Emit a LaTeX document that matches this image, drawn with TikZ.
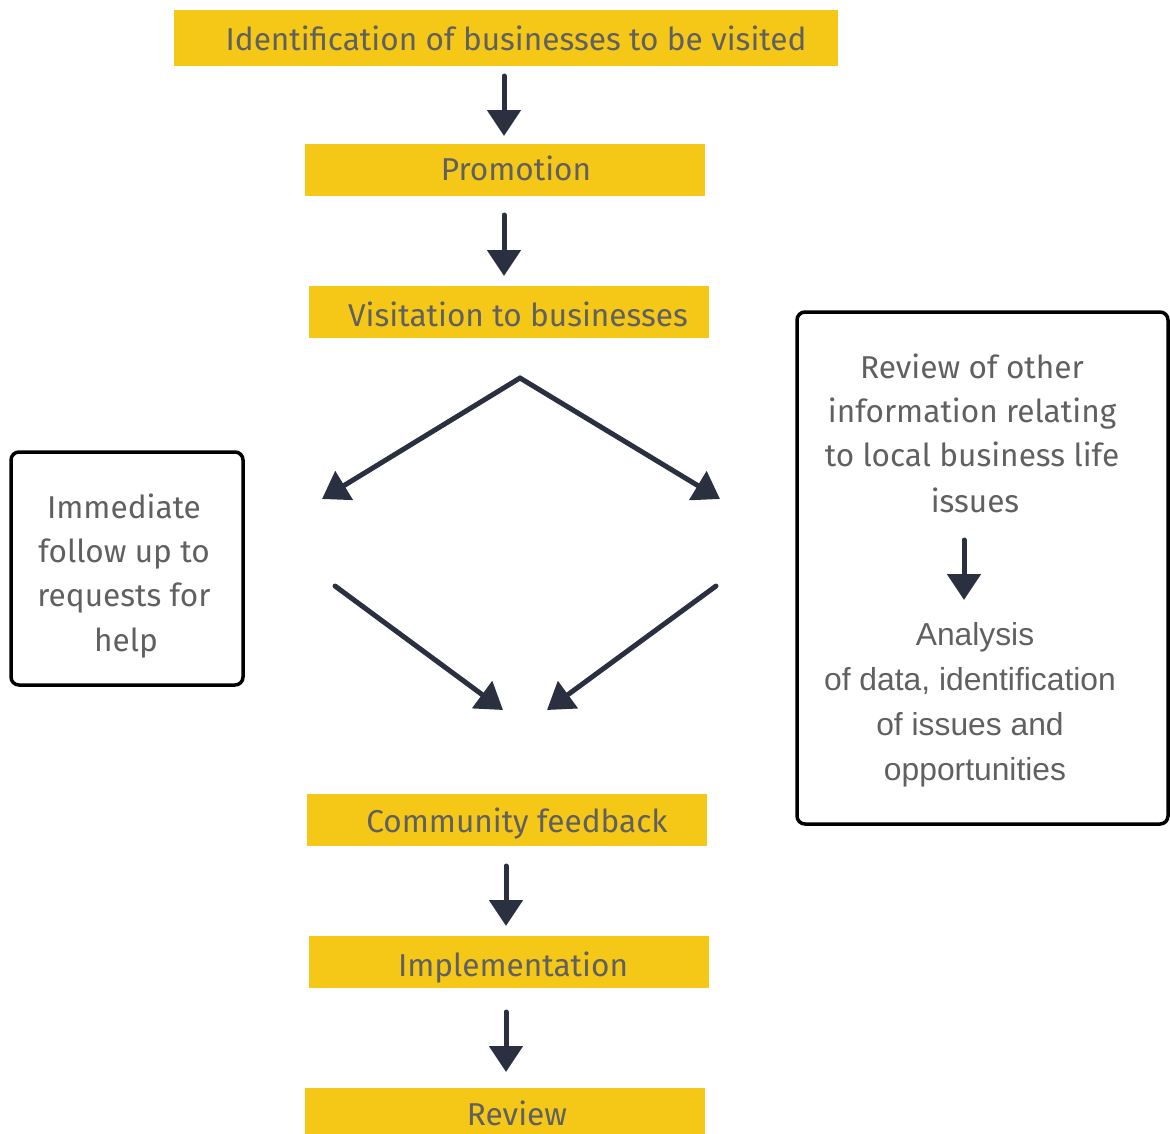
\documentclass[tikz,border=0pt]{standalone}
\usepackage{fontspec}
\setmainfont{Fira Sans}
\newfontfamily\arialfont{Liberation Sans}
\usetikzlibrary{arrows.meta}
\definecolor{ybox}{HTML}{F5C817}
\definecolor{tgray}{HTML}{606060}
\definecolor{arrowc}{HTML}{2B3040}
\tikzset{
  ybox/.style={fill=ybox, draw=none, inner sep=0pt},
  txt/.style={text=tgray, font=\fontsize{31.6}{38}\selectfont, anchor=base, inner sep=0pt},
  atxt/.style={text=tgray, font=\arialfont\fontsize{31.8}{38}\selectfont, anchor=base, inner sep=0pt},
  frame/.style={draw=black, line width=3.5pt, rounded corners=8pt},
  arr/.style={draw=arrowc, line width=5pt, line cap=round, -{Triangle[length=26pt,width=33pt]}},
}
\begin{document}
\begin{tikzpicture}[x=1pt,y=-1pt]
\useasboundingbox (0,0) rectangle (1170,1133);
% yellow boxes
\node[ybox, minimum width=664, minimum height=56] (b1) at (506,38) {};
\node[ybox, minimum width=400, minimum height=52] (b2) at (505,170) {};
\node[ybox, minimum width=400, minimum height=52] (b3) at (509,312) {};
\node[ybox, minimum width=400, minimum height=52] (b4) at (507,820) {};
\node[ybox, minimum width=400, minimum height=52] (b5) at (509,962) {};
\node[ybox, minimum width=400, minimum height=46] (b6) at (505,1111) {};
\node[txt] (t1) at (516,50) {Identification of businesses to be visited};
\node[txt] (t2) at (516,180) {Promotion};
\node[txt] (t3) at (518,326) {Visitation to businesses};
\node[txt] (t4) at (517,832) {Community feedback};
\node[txt] (t5) at (513,976) {Implementation};
\node[txt] (t6) at (517,1125) {Review};
% frames
\draw[frame] (11,452) rectangle (243,685);
\draw[frame] (797,312) rectangle (1168,824);
\node[txt] (l1) at (124,518) {Immediate};
\node[txt] (l2) at (124,562) {follow up to};
\node[txt] (l3) at (124,606) {requests for};
\node[txt] (l4) at (126,651) {help};
\node[txt] (r1) at (972,378) {Review of other};
\node[txt] (r2) at (972,422) {information relating};
\node[txt] (r3) at (972,466) {to local business life};
\node[txt] (r4) at (975,512) {issues};
\node[atxt] (a1) at (975,645) {Analysis};
\node[atxt] (a2) at (970,690) {of data, identification};
\node[atxt] (a3) at (970,735) {of issues and};
\node[atxt] (a4) at (975,780) {opportunities};
% arrow coordinates
\coordinate (v1s) at (504,76);
\coordinate (v1e) at (504,136);
\coordinate (v2s) at (504,215);
\coordinate (v2e) at (504,276);
\coordinate (top) at (520,378);
\coordinate (lt) at (322,499);
\coordinate (rt) at (720,499);
\coordinate (ls) at (335,586);
\coordinate (le) at (503,710);
\coordinate (rs) at (716,586);
\coordinate (re) at (547,710);
\coordinate (v3s) at (506,866);
\coordinate (v3e) at (506,926);
\coordinate (v4s) at (506,1012);
\coordinate (v4e) at (506,1072);
\coordinate (v5s) at (964,540);
\coordinate (v5e) at (964,600);
\draw[arr] (v1s) -- (v1e);
\draw[arr] (v2s) -- (v2e);
\draw[arr] (top) -- (lt);
\draw[arr] (top) -- (rt);
\draw[arr] (ls) -- (le);
\draw[arr] (rs) -- (re);
\draw[arr] (v3s) -- (v3e);
\draw[arr] (v4s) -- (v4e);
\draw[arr] (v5s) -- (v5e);
\end{tikzpicture}
\end{document}
